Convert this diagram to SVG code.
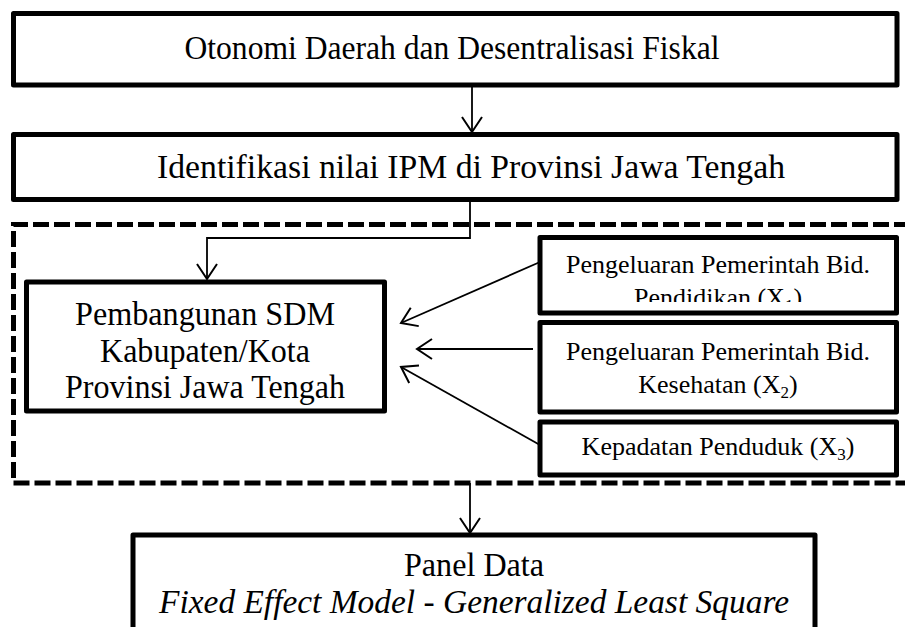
<svg xmlns="http://www.w3.org/2000/svg" width="905" height="627" viewBox="0 0 905 627">
<style>
.box{fill:#fff;stroke:#000;stroke-width:5;stroke-linejoin:round}
.dash{fill:none;stroke:#000;stroke-width:5;stroke-dasharray:16 5}
.con{fill:none;stroke:#000;stroke-width:1.8}
.t{font-family:"Liberation Serif","Times New Roman",serif;font-size:33px;fill:#000;text-anchor:middle}
.s{font-family:"Liberation Serif","Times New Roman",serif;font-size:26px;fill:#000;text-anchor:middle}
.i{font-style:italic}
</style>
<defs>
<marker id="arr" markerUnits="userSpaceOnUse" viewBox="-17 -12 19 24" refX="0" refY="0" markerWidth="19" markerHeight="24" orient="auto" overflow="visible">
<path d="M-15,-10 L0,0 L-15,10" fill="none" stroke="#000" stroke-width="2"/>
</marker>
<clipPath id="clipX1"><rect x="540" y="237" width="357" height="65"/></clipPath>
</defs>

<g id="container">
<path class="dash" d="M910,224.5 L13.5,224.5 L13.5,483 L910,483"/>
</g>

<g id="node-otonomi">
<rect class="box" x="13.5" y="13.5" width="883.5" height="71.5"/>
<text class="t" x="452" y="59" textLength="535" lengthAdjust="spacingAndGlyphs">Otonomi Daerah dan Desentralisasi Fiskal</text>
</g>

<g id="node-identifikasi">
<rect class="box" x="13.5" y="134.5" width="883.5" height="65"/>
<text class="t" x="471" y="178" textLength="628" lengthAdjust="spacingAndGlyphs">Identifikasi nilai IPM di Provinsi Jawa Tengah</text>
</g>

<g id="node-sdm">
<rect class="box" x="26.5" y="282" width="358" height="129"/>
<text class="t" x="205" y="325" textLength="260" lengthAdjust="spacingAndGlyphs">Pembangunan SDM</text>
<text class="t" x="205" y="362" textLength="210" lengthAdjust="spacingAndGlyphs">Kabupaten/Kota</text>
<text class="t" x="205" y="398" textLength="280" lengthAdjust="spacingAndGlyphs">Provinsi Jawa Tengah</text>
</g>

<g id="node-x1">
<rect class="box" x="540" y="237.5" width="356.5" height="75.5"/>
<text class="s" x="718" y="273">Pengeluaran Pemerintah Bid.</text>
<text class="s" x="718" y="306" clip-path="url(#clipX1)">Pendidikan (X<tspan font-size="17" dy="5">1</tspan><tspan dy="-5">)</tspan></text>
</g>

<g id="node-x2">
<rect class="box" x="540" y="322.5" width="356.5" height="89.5"/>
<text class="s" x="718" y="360">Pengeluaran Pemerintah Bid.</text>
<text class="s" x="718" y="393">Kesehatan (X<tspan font-size="17" dy="5">2</tspan><tspan dy="-5">)</tspan></text>
</g>

<g id="node-x3">
<rect class="box" x="540" y="422" width="356.5" height="53"/>
<text class="s" x="718" y="455">Kepadatan Penduduk (X<tspan font-size="17" dy="5">3</tspan><tspan dy="-5">)</tspan></text>
</g>

<g id="node-panel">
<rect class="box" x="133" y="535" width="682" height="110"/>
<text class="t" x="474" y="576" textLength="140" lengthAdjust="spacingAndGlyphs">Panel Data</text>
<text class="t" x="474" y="613" textLength="630" lengthAdjust="spacingAndGlyphs"><tspan class="i">Fixed Effect Model</tspan> - <tspan class="i">Generalized Least Square</tspan></text>
</g>

<g id="connectors">
<path class="con" d="M472,85 L472,132" marker-end="url(#arr)"/>
<path class="con" d="M470,200 L470,238 L207,238 L207,279" marker-end="url(#arr)"/>
<path class="con" d="M540,262 L401,323" marker-end="url(#arr)"/>
<path class="con" d="M533,349 L417,349" marker-end="url(#arr)"/>
<path class="con" d="M540,445 L401,367" marker-end="url(#arr)"/>
<path class="con" d="M470,483 L470,533" marker-end="url(#arr)"/>
</g>
</svg>
